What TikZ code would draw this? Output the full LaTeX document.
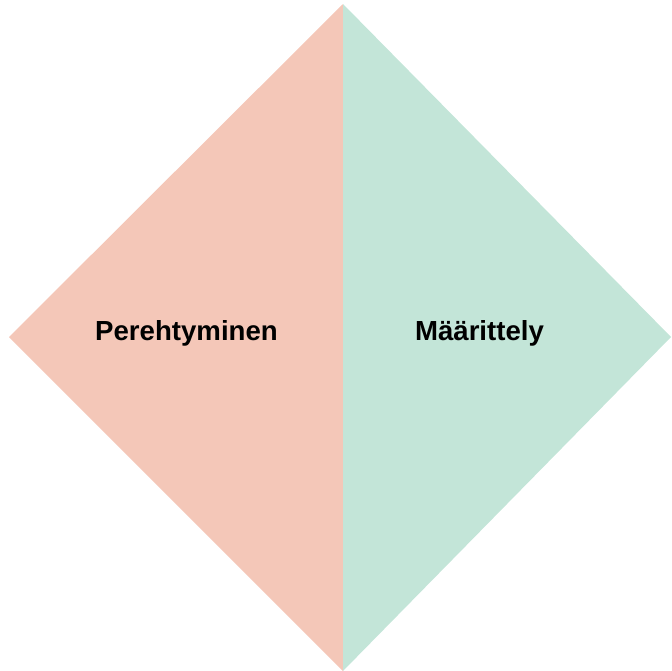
\documentclass[tikz,border=0pt]{standalone}
\usepackage{fontspec}
\setmainfont{Liberation Sans}
\definecolor{salmon}{HTML}{F4C7B8}
\definecolor{mint}{HTML}{C3E5D8}
\tikzset{label text/.style={font=\fontsize{20.7}{24}\selectfont\bfseries, text=black}}
\begin{document}
\begin{tikzpicture}[x=0.75pt,y=-0.75pt]
\useasboundingbox (0,0) rectangle (672,671);
\coordinate (Top) at (343,4);
\coordinate (Left) at (9,337);
\coordinate (Right) at (671,337);
\coordinate (Bottom) at (343,671);
\fill[salmon] (Top) -- (Left) -- (Bottom) -- cycle; % left half
\fill[mint] (Top) -- (Right) -- (Bottom) -- cycle; % right half
\node[label text] (Perehtyminen) at (186.5,333) {Perehtyminen};
\node[label text] (Maarittely) at (479.5,333) {Määrittely};
\end{tikzpicture}
\end{document}
